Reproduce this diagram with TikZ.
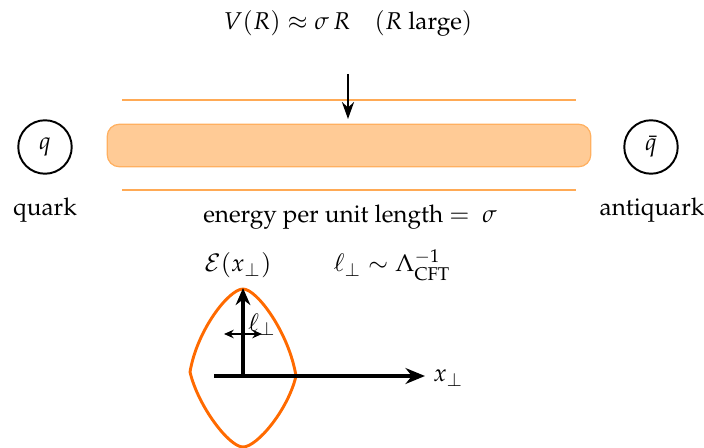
\documentclass[tikz,border=0pt]{standalone}
\usepackage[T1]{fontenc}
\usepackage{mathpazo}
\usetikzlibrary{arrows.meta}
\definecolor{tubefill}{HTML}{FFCB96}
\definecolor{tubeedge}{HTML}{FFB060}
\definecolor{fluxline}{HTML}{FFAA55}
\definecolor{profile}{HTML}{FF6A00}
\tikzset{
  quarkc/.style={circle,draw=black,line width=0.8pt,minimum size=22pt,inner sep=0pt},
  lbl/.style={inner sep=0pt,anchor=base},
  axisarr/.style={line width=1.5pt,-{Stealth[length=8pt,width=6.5pt]}},
}
\begin{document}
\begin{tikzpicture}[x=0.4115pt,y=-0.4115pt]
\useasboundingbox (0,0) rectangle (704,448);
% quarks
\node[quarkc] (q) at (45,147) {$q$};
\node[quarkc] (qb) at (651,147) {$\bar q$};
\node[lbl] (ql) at (45,216) {quark};
\node[lbl] (qbl) at (652,216) {antiquark};
% flux tube
\node[draw=tubeedge,fill=tubefill,line width=0.5pt,rounded corners=5pt,minimum width=199pt,minimum height=17.5pt,inner sep=0pt] (tube) at (349,145.5) {};
\coordinate (l1a) at (122,100); \coordinate (l1b) at (576,100);
\coordinate (l2a) at (122,190); \coordinate (l2b) at (576,190);
\draw[fluxline,line width=0.8pt] (l1a) -- (l1b);
\draw[fluxline,line width=0.8pt] (l2a) -- (l2b);
% potential label and arrow
\node[lbl] (pot) at (348,30) {$V(R)\approx\sigma\,R\quad(R\ \mbox{large})$};
\coordinate (arrtop) at (348,74);
\coordinate (arrbot) at (348,119);
\draw[line width=0.8pt,-{Stealth[length=7pt,width=5pt]}] (arrtop) -- (arrbot);
\node[lbl] (en) at (350,223) {energy per unit length $=\ \sigma$};
% profile labels
\node[lbl] (calE) at (238,272) {$\mathcal{E}(x_\perp)$};
\node[lbl] (lsc) at (392,272) {$\ell_\perp\sim\Lambda_{\mathrm{CFT}}^{-1}$};
% profile curve
\coordinate (pt) at (243,289);
\coordinate (pr) at (296,376);
\coordinate (pb) at (243,447);
\coordinate (pl) at (190,372);
\draw[profile,line width=1.2pt,line join=miter]
  (pt) .. controls (257,289) and (289,333) .. (pr)
  .. controls (288,410) and (257,447) .. (pb)
  .. controls (229,447) and (198,406) .. (pl)
  .. controls (197,330) and (229,289) .. (pt) -- cycle;
% axes
\coordinate (o) at (243,376);
\coordinate (xs) at (214,376);
\coordinate (xe) at (425,376);
\draw[axisarr] (xs) -- (xe);
\node[lbl,anchor=west] (xl) at (433,378) {$x_\perp$};
\coordinate (ye) at (243,288);
\draw[line width=1.3pt,-{Stealth[length=7pt,width=6pt]}] (o) -- (ye);
% width arrow
\coordinate (wa) at (224,334);
\coordinate (wb) at (262,334);
\draw[line width=0.6pt,{Stealth[length=4pt,width=3.5pt]}-{Stealth[length=4pt,width=3.5pt]}] (wa) -- (wb);
\node[lbl] (wl) at (262,331) {$\ell_\perp$};
\end{tikzpicture}
\end{document}
